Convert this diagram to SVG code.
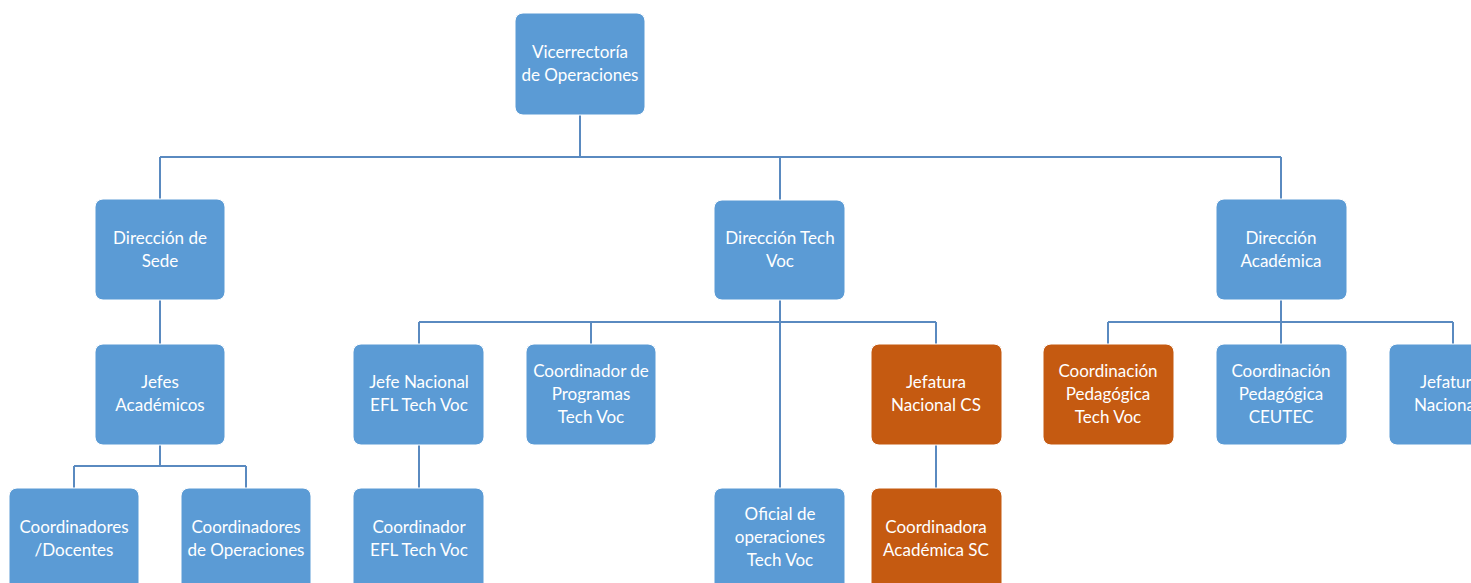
<svg xmlns="http://www.w3.org/2000/svg" width="1471" height="583" viewBox="0 0 1471 583">
<style>
.b{fill:#5B9BD5;stroke:#FFFFFF;stroke-width:1}
.o{fill:#C55A11;stroke:#FFFFFF;stroke-width:1}
.t{font-family:Lato,"Noto Sans",sans-serif;font-size:17px;fill:#FFFFFF;text-anchor:middle}
.c{fill:none;stroke:#5A8AC0;stroke-width:2}
</style>
<rect width="1471" height="583" fill="#FFFFFF"/>
<g id="connectors">
<path class="c" d="M580 115V157M160 157H1281M160 157V199M780 157V200M1281 157V199"/>
<path class="c" d="M160 300V344M160 445V466M74 466H246M74 466V488M246 466V488"/>
<path class="c" d="M780 300V488M419 322H936M419 322V344M591 322V344M936 322V344"/>
<path class="c" d="M419 445V488M936 445V488"/>
<path class="c" d="M1281 300V344M1108 322H1453M1108 322V344M1453 322V344"/>
</g>
<g id="n-vicerrectoria"><rect class="b" x="515" y="13" width="130" height="102" rx="8"/><text class="t" x="580" y="58">Vicerrectoría</text><text class="t" x="580" y="81">de Operaciones</text></g>
<g id="n-direccion-sede"><rect class="b" x="95" y="199" width="130" height="101" rx="8"/><text class="t" x="160" y="244">Dirección de</text><text class="t" x="160" y="267">Sede</text></g>
<g id="n-direccion-techvoc"><rect class="b" x="714" y="200" width="131" height="100" rx="8"/><text class="t" x="780" y="244">Dirección Tech</text><text class="t" x="780" y="267">Voc</text></g>
<g id="n-direccion-academica"><rect class="b" x="1216" y="199" width="131" height="101" rx="8"/><text class="t" x="1281" y="244">Dirección</text><text class="t" x="1281" y="267">Académica</text></g>
<g id="n-jefes-academicos"><rect class="b" x="95" y="344" width="130" height="101" rx="8"/><text class="t" x="160" y="388">Jefes</text><text class="t" x="160" y="411">Académicos</text></g>
<g id="n-jefe-efl"><rect class="b" x="353" y="344" width="131" height="101" rx="8"/><text class="t" x="419" y="388">Jefe Nacional</text><text class="t" x="419" y="411">EFL Tech Voc</text></g>
<g id="n-coord-programas"><rect class="b" x="526" y="344" width="130" height="101" rx="8"/><text class="t" x="591" y="377">Coordinador de</text><text class="t" x="591" y="400">Programas</text><text class="t" x="591" y="423">Tech Voc</text></g>
<g id="n-jefatura-cs"><rect class="o" x="871" y="344" width="131" height="101" rx="8"/><text class="t" x="936" y="388">Jefatura</text><text class="t" x="936" y="411">Nacional CS</text></g>
<g id="n-coord-ped-techvoc"><rect class="o" x="1043" y="344" width="131" height="101" rx="8"/><text class="t" x="1108" y="377">Coordinación</text><text class="t" x="1108" y="400">Pedagógica</text><text class="t" x="1108" y="423">Tech Voc</text></g>
<g id="n-coord-ped-ceutec"><rect class="b" x="1216" y="344" width="131" height="101" rx="8"/><text class="t" x="1281" y="377">Coordinación</text><text class="t" x="1281" y="400">Pedagógica</text><text class="t" x="1281" y="423">CEUTEC</text></g>
<g id="n-jefatura-nacional-2"><rect class="b" x="1389" y="344" width="131" height="101" rx="8"/><text class="t" x="1420" y="388" style="text-anchor:start">Jefatura</text><text class="t" x="1414" y="411" style="text-anchor:start">Nacional</text></g>
<g id="n-coordinadores-docentes"><rect class="b" x="9" y="488" width="130" height="110" rx="8"/><text class="t" x="74" y="533">Coordinadores</text><text class="t" x="74" y="556">/Docentes</text></g>
<g id="n-coordinadores-operaciones"><rect class="b" x="181" y="488" width="130" height="110" rx="8"/><text class="t" x="246" y="533">Coordinadores</text><text class="t" x="246" y="556">de Operaciones</text></g>
<g id="n-coord-efl"><rect class="b" x="353" y="488" width="131" height="110" rx="8"/><text class="t" x="419" y="533">Coordinador</text><text class="t" x="419" y="556">EFL Tech Voc</text></g>
<g id="n-oficial-operaciones"><rect class="b" x="714" y="488" width="131" height="110" rx="8"/><text class="t" x="780" y="520">Oficial de</text><text class="t" x="780" y="543">operaciones</text><text class="t" x="780" y="566">Tech Voc</text></g>
<g id="n-coordinadora-sc"><rect class="o" x="871" y="488" width="131" height="110" rx="8"/><text class="t" x="936" y="533">Coordinadora</text><text class="t" x="936" y="556">Académica SC</text></g>
</svg>
